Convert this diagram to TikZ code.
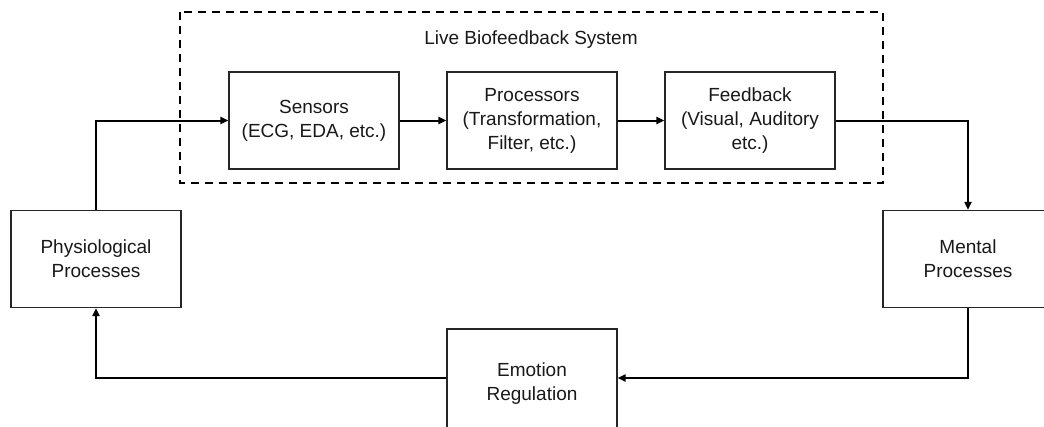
\documentclass[tikz,border=0pt]{standalone}
\usepackage{fontspec}
\setmainfont{Liberation Sans}
\usetikzlibrary{arrows.meta}
\begin{document}
\begin{tikzpicture}[x=1pt,y=-1pt,
  box/.style={draw=black!85, line width=1.3pt, minimum width=170pt, minimum height=97pt, inner sep=0pt, align=center, font=\fontsize{19}{24}\selectfont, text=black!90},
  conn/.style={line width=2pt, -{Triangle[length=8pt,width=7pt]}},
  group/.style={draw, line width=2pt, dash pattern=on 8pt off 6pt}]
\useasboundingbox (0,0) rectangle (1044,426);
\clip (0,0) rectangle (1044,426);
\fill[white] (0,0) rectangle (1044,426);
\draw[group] (180,12) rectangle (883,183);
\node[font=\fontsize{19}{24}\selectfont, text=black!90] (title) at (531,40) {Live Biofeedback System};
\node[box] (sens) at (314,120.5) {Sensors\\(ECG, EDA, etc.)};
\node[box] (proc) at (532,120.5) {Processors\\(Transformation,\\Filter, etc.)};
\node[box] (feed) at (750,120.5) {Feedback\\(Visual, Auditory\\etc.)};
\node[box] (phys) at (96,259) {Physiological\\Processes};
\node[box] (ment) at (968,259) {Mental\\Processes};
\node[box, minimum height=110pt] (emo) at (532,384) {\raisebox{3pt}{\parbox{160pt}{\centering Emotion\\Regulation}}};
\draw[conn] (phys.north) |- (sens.west);
\draw[conn] (sens.east) -- (proc.west);
\draw[conn] (proc.east) -- (feed.west);
\draw[conn] (feed.east) -| (ment.north);
\draw[conn] (ment.south) |- ([yshift=6pt]emo.east);
\draw[conn] ([yshift=6pt]emo.west) -| (phys.south);
\end{tikzpicture}
\end{document}
